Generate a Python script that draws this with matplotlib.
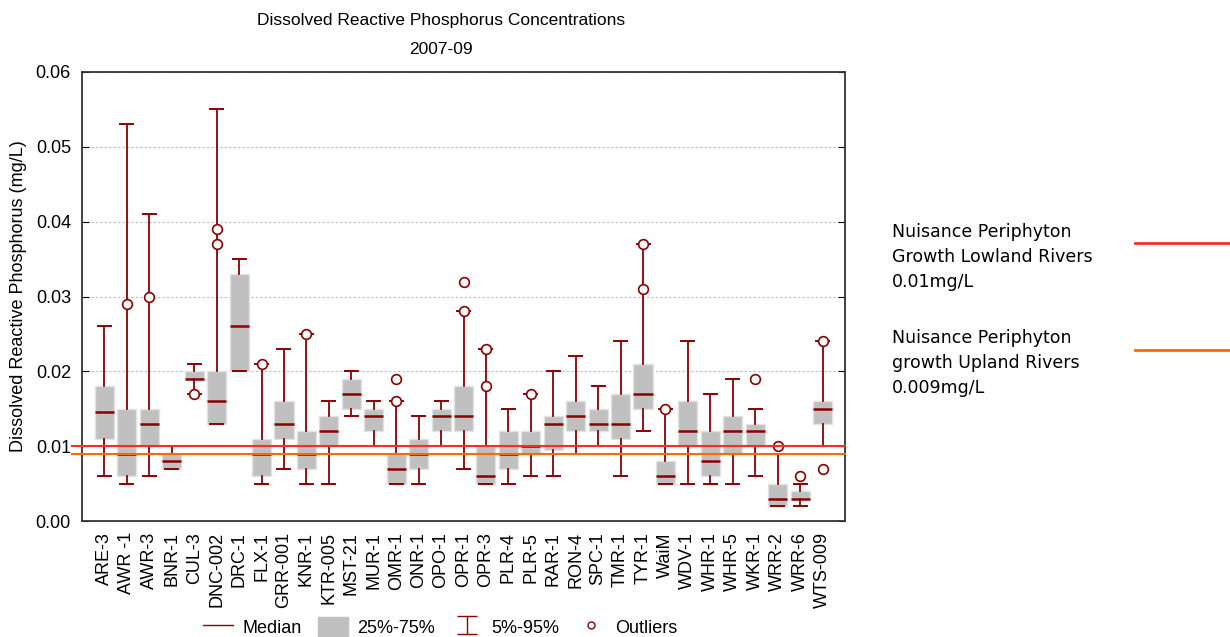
import numpy as np
import matplotlib
matplotlib.use("Agg")
import matplotlib.pyplot as plt
from matplotlib.lines import Line2D
from matplotlib.patches import Patch

# sites and percentile summaries of DRP (mg/L), 2007-09
sites = ['ARE-3', 'AWR -1', 'AWR-3', 'BNR-1', 'CUL-3', 'DNC-002', 'DRC-1', 'FLX-1',
         'GRR-001', 'KNR-1', 'KTR-005', 'MST-21', 'MUR-1', 'OMR-1', 'ONR-1', 'OPO-1',
         'OPR-1', 'OPR-3', 'PLR-4', 'PLR-5', 'RAR-1', 'RON-4', 'SPC-1', 'TMR-1',
         'TYR-1', 'WaiM', 'WDV-1', 'WHR-1', 'WHR-5', 'WKR-1', 'WRR-2', 'WRR-6', 'WTS-009']
p05 = [0.006, 0.005, 0.006, 0.007, 0.017, 0.013, 0.020, 0.005, 0.007, 0.005, 0.005,
       0.014, 0.010, 0.005, 0.005, 0.010, 0.007, 0.005, 0.005, 0.006, 0.006, 0.009,
       0.010, 0.006, 0.012, 0.005, 0.005, 0.005, 0.005, 0.006, 0.002, 0.002, 0.010]
q25 = [0.011, 0.006, 0.010, 0.007, 0.019, 0.013, 0.020, 0.006, 0.011, 0.007, 0.010,
       0.015, 0.012, 0.005, 0.007, 0.012, 0.012, 0.005, 0.007, 0.009, 0.0095, 0.012,
       0.012, 0.011, 0.015, 0.005, 0.010, 0.006, 0.009, 0.010, 0.002, 0.003, 0.013]
median = [0.0145, 0.009, 0.013, 0.008, 0.019, 0.016, 0.026, 0.009, 0.013, 0.009, 0.012,
          0.017, 0.014, 0.007, 0.009, 0.014, 0.014, 0.006, 0.009, 0.010, 0.013, 0.014,
          0.013, 0.013, 0.017, 0.006, 0.012, 0.008, 0.012, 0.012, 0.003, 0.003, 0.015]
q75 = [0.018, 0.015, 0.015, 0.009, 0.020, 0.020, 0.033, 0.011, 0.016, 0.012, 0.014,
       0.019, 0.015, 0.009, 0.011, 0.015, 0.018, 0.010, 0.012, 0.012, 0.014, 0.016,
       0.015, 0.017, 0.021, 0.008, 0.016, 0.012, 0.014, 0.013, 0.005, 0.004, 0.016]
p95 = [0.026, 0.053, 0.041, 0.010, 0.021, 0.055, 0.035, 0.021, 0.023, 0.025, 0.016,
       0.020, 0.016, 0.016, 0.014, 0.016, 0.028, 0.023, 0.015, 0.017, 0.020, 0.022,
       0.018, 0.024, 0.037, 0.015, 0.024, 0.017, 0.019, 0.015, 0.009, 0.005, 0.024]
outliers = [[], [0.029], [0.030], [], [0.017], [0.039, 0.037], [], [0.021], [], [0.025],
            [], [], [], [0.019, 0.016], [], [], [0.032, 0.028], [0.023, 0.018], [],
            [0.017], [], [], [], [], [0.037, 0.031], [0.015], [], [], [], [0.019],
            [0.010], [0.006], [0.024, 0.007]]

lowland = 0.01
upland = 0.009

dark_red = '#8B0000'
box_grey = '#C0C0C0'
red = '#FF2A2A'
orange = '#FF6A00'

plt.rcParams['font.family'] = ['Liberation Sans', 'DejaVu Sans']

fig = plt.figure(figsize=(12.3, 6.37), dpi=100)
ax = fig.add_axes([82 / 1230, 1 - 521 / 637, 763 / 1230, 449 / 637])

stats = []
for i in range(len(sites)):
    stats.append(dict(label=sites[i], whislo=p05[i], q1=q25[i], med=median[i],
                      q3=q75[i], whishi=p95[i], fliers=outliers[i]))

pos = np.arange(len(sites))
ax.bxp(stats, positions=pos, widths=0.85, capwidths=0.58, patch_artist=True,
       boxprops=dict(facecolor=box_grey, edgecolor='#E2E2E2', linewidth=1),
       medianprops=dict(color=dark_red, linewidth=1.8),
       whiskerprops=dict(color=dark_red, linewidth=1.3),
       capprops=dict(color=dark_red, linewidth=1.4),
       flierprops=dict(marker='o', markersize=7, markerfacecolor='white',
                       markeredgecolor=dark_red, markeredgewidth=1.2, zorder=4))

# guideline values
ax.axhline(lowland, xmin=-0.013, xmax=1, color=red, lw=1.5, clip_on=False, zorder=5)
ax.axhline(upland, xmin=-0.013, xmax=1, color=orange, lw=1.5, clip_on=False, zorder=5)

ax.set_xlim(-1, 33)
ax.set_ylim(0, 0.06)
ax.set_yticks(np.arange(0, 0.061, 0.01))
ax.yaxis.set_major_formatter(matplotlib.ticker.FormatStrFormatter('%.2f'))
ax.set_xticks(pos)
ax.set_xticklabels(sites, rotation=90)
ax.set_xticks(pos[::2], minor=True)
ax.tick_params(axis='x', which='major', length=0, labelsize=13, pad=8)
ax.tick_params(axis='x', which='minor', direction='in', length=5, top=True, bottom=True)
ax.tick_params(axis='y', direction='in', length=5, right=True, labelsize=13, pad=8)
ax.grid(axis='y', which='major', color='#BBBBBB', ls=(0, (2, 2)), lw=0.8)
ax.grid(axis='x', which='minor', color='#BBBBBB', ls=(0, (2, 2)), lw=0.8)
ax.set_axisbelow(True)
for s in ax.spines.values():
    s.set_linewidth(1.3)
    s.set_color('#333333')

ax.set_ylabel('Dissolved Reactive Phosphorus (mg/L)', fontsize=13, labelpad=6)

fig.text(441 / 1230, 1 - 20 / 637, 'Dissolved Reactive Phosphorus Concentrations',
         ha='center', va='center', fontsize=12.5)
fig.text(441 / 1230, 1 - 50 / 637, '2007-09', ha='center', va='center', fontsize=12.5)

# legend below the category labels
eb = ax.errorbar([np.nan], [np.nan], yerr=[1], fmt='none', ecolor=dark_red,
                 elinewidth=1, capsize=7)
handles = [Line2D([], [], color=dark_red, lw=1),
           Patch(facecolor=box_grey, edgecolor=box_grey),
           eb,
           Line2D([], [], marker='o', ls='none', markersize=5,
                  markerfacecolor='white', markeredgecolor=dark_red)]
fig.legend(handles, ['Median', '25%-75%', '5%-95%', 'Outliers'], loc='center',
           bbox_to_anchor=(440 / 1230, 1 - 627 / 637), ncol=4, frameon=False,
           fontsize=13, handlelength=1.7, handleheight=1.2, handletextpad=0.5,
           columnspacing=0.9, borderpad=0.1)

# guideline key on the right
fig.text(892 / 1230, 1 - 223 / 637,
         'Nuisance Periphyton\nGrowth Lowland Rivers\n0.01mg/L',
         ha='left', va='top', fontsize=12.5, family='DejaVu Sans', linespacing=1.5)
fig.text(892 / 1230, 1 - 329 / 637,
         'Nuisance Periphyton\ngrowth Upland Rivers\n0.009mg/L',
         ha='left', va='top', fontsize=12.5, family='DejaVu Sans', linespacing=1.5)
fig.add_artist(Line2D([1135 / 1230, 1], [1 - 243 / 637] * 2, color=red, lw=2))
fig.add_artist(Line2D([1135 / 1230, 1], [1 - 350 / 637] * 2, color=orange, lw=2))

fig.savefig('out.png', dpi=100)
